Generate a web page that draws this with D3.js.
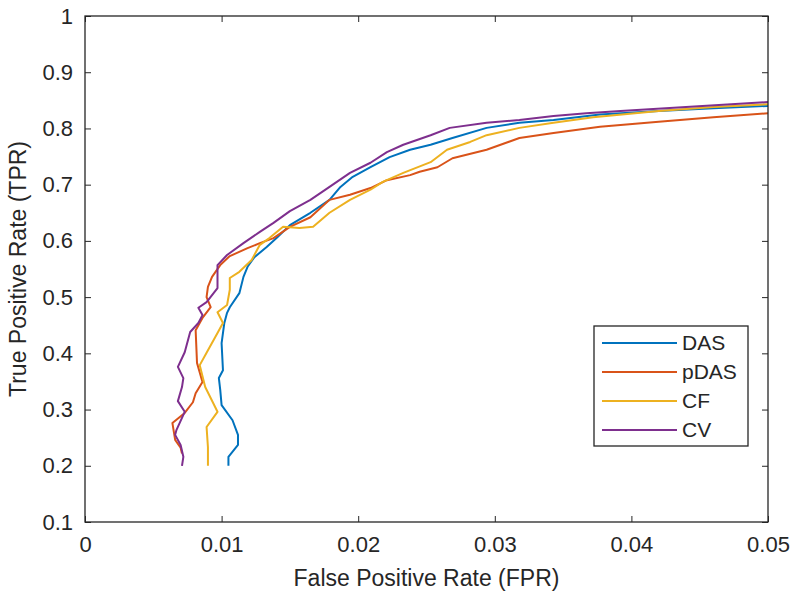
<!DOCTYPE html>
<html><head><meta charset="utf-8">
<script src="https://cdn.jsdelivr.net/npm/d3@7"></script>
<style>body{margin:0;background:#fff}svg{display:block}text{font-family:Arial,"Liberation Sans",sans-serif;fill:#262626}</style>
</head><body><svg id="c" width="800" height="605"></svg>
<script>
const seriesNames = ["DAS","pDAS","CF","CV"];
const seriesColors = ["#0072BD","#D95319","#EDB120","#7E2F8E"];
const xTicks = [0,0.01,0.02,0.03,0.04,0.05];
const yTicks = [0.1,0.2,0.3,0.4,0.5,0.6,0.7,0.8,0.9,1];
const dasFPR = [0.0105,0.0105,0.0112,0.0112,0.0108,0.0100,0.0099,0.0098,0.0101,0.0100,0.0102,0.0104,0.0106,0.0113,0.0116,0.0119,0.0124,0.0133,0.0141,0.0150,0.0165,0.0179,0.0187,0.0196,0.0209,0.0223,0.0238,0.0253,0.0269,0.0294,0.0318,0.0343,0.0377,0.0420,0.0460,0.0500];
const dasTPR = [0.200,0.216,0.237,0.255,0.281,0.308,0.335,0.356,0.370,0.418,0.454,0.472,0.482,0.507,0.536,0.554,0.571,0.589,0.607,0.628,0.650,0.673,0.696,0.714,0.731,0.749,0.762,0.771,0.783,0.801,0.810,0.815,0.825,0.831,0.836,0.840];
const pdasFPR = [0.0071,0.0070,0.0066,0.0064,0.0073,0.0079,0.0081,0.0086,0.0082,0.0081,0.0086,0.0092,0.0089,0.0090,0.0093,0.0099,0.0106,0.0119,0.0128,0.0138,0.0150,0.0165,0.0179,0.0194,0.0209,0.0221,0.0238,0.0245,0.0258,0.0269,0.0294,0.0318,0.0343,0.0377,0.0420,0.0460,0.0500];
const pdasTPR = [0.222,0.232,0.246,0.276,0.294,0.313,0.329,0.349,0.383,0.441,0.463,0.482,0.500,0.518,0.536,0.557,0.573,0.587,0.596,0.605,0.625,0.642,0.673,0.682,0.694,0.708,0.717,0.723,0.731,0.747,0.762,0.783,0.792,0.803,0.812,0.820,0.827];
const cfFPR = [0.0090,0.0090,0.0089,0.0097,0.0088,0.0084,0.0089,0.0097,0.0101,0.0097,0.0104,0.0106,0.0106,0.0113,0.0122,0.0128,0.0135,0.0145,0.0157,0.0167,0.0179,0.0194,0.0209,0.0218,0.0233,0.0253,0.0265,0.0282,0.0294,0.0318,0.0343,0.0372,0.0420,0.0460,0.0500];
const cfTPR = [0.200,0.233,0.269,0.296,0.340,0.379,0.401,0.436,0.454,0.473,0.486,0.513,0.534,0.545,0.566,0.593,0.605,0.625,0.623,0.625,0.650,0.673,0.691,0.705,0.721,0.740,0.762,0.776,0.788,0.801,0.810,0.820,0.831,0.838,0.843];
const cvFPR = [0.0071,0.0072,0.0070,0.0066,0.0067,0.0073,0.0068,0.0071,0.0072,0.0068,0.0073,0.0077,0.0083,0.0086,0.0083,0.0089,0.0097,0.0097,0.0097,0.0104,0.0116,0.0128,0.0138,0.0150,0.0165,0.0179,0.0194,0.0209,0.0221,0.0233,0.0253,0.0267,0.0294,0.0318,0.0343,0.0367,0.0392,0.0440,0.0500];
const cvTPR = [0.200,0.216,0.237,0.255,0.264,0.296,0.315,0.340,0.356,0.376,0.402,0.438,0.454,0.468,0.481,0.491,0.516,0.539,0.557,0.575,0.596,0.616,0.632,0.653,0.673,0.696,0.721,0.739,0.758,0.771,0.788,0.801,0.810,0.815,0.822,0.827,0.831,0.838,0.847];
const xs = [dasFPR,pdasFPR,cfFPR,cvFPR], ys=[dasTPR,pdasTPR,cfTPR,cvTPR];

const svg = d3.select("#c");
const L=85,R=768,T=16,B=522;
const x = d3.scaleLinear().domain([0,0.05]).range([L,R]);
const y = d3.scaleLinear().domain([0.1,1]).range([B,T]);
const tickLen=6;
const ax = svg.append("g");
ax.append("g").attr("transform",`translate(0,${B})`).call(d3.axisBottom(x).tickValues(xTicks).tickFormat(d=>d===0?"0":d3.format("")(+d.toFixed(2))).tickSizeInner(-tickLen).tickSizeOuter(0).tickPadding(14))
  .call(g=>{g.select(".domain").remove();g.selectAll("text").attr("font-size",22).attr("fill","#262626");});
ax.append("g").attr("transform",`translate(0,${T})`).call(d3.axisTop(x).tickValues(xTicks).tickFormat("").tickSizeInner(-tickLen).tickSizeOuter(0))
  .call(g=>g.select(".domain").remove());
ax.append("g").attr("transform",`translate(${L},0)`).call(d3.axisLeft(y).tickValues(yTicks).tickFormat(d=>d3.format("")(+d.toFixed(1))).tickSizeInner(-tickLen).tickSizeOuter(0).tickPadding(12))
  .call(g=>{g.select(".domain").remove();g.selectAll("text").attr("font-size",22).attr("fill","#262626");});
ax.append("g").attr("transform",`translate(${R},0)`).call(d3.axisRight(y).tickValues(yTicks).tickFormat("").tickSizeInner(-tickLen).tickSizeOuter(0))
  .call(g=>g.select(".domain").remove());
ax.selectAll(".tick line").attr("stroke","#262626");

const line = d3.line();
xs.forEach((xa,i)=>{
  const pts = xa.map((v,j)=>[x(v),y(ys[i][j])]);
  svg.append("path").attr("d",line(pts)).attr("fill","none").attr("stroke",seriesColors[i]).attr("stroke-width",2).attr("stroke-linejoin","round");
});
svg.append("rect").attr("x",L).attr("y",T).attr("width",R-L).attr("height",B-T).attr("fill","none").attr("stroke","#262626").attr("stroke-width",1.3);

svg.append("text").attr("x",(L+R)/2).attr("y",586).attr("text-anchor","middle").attr("font-size",23).text("False Positive Rate (FPR)");
svg.append("text").attr("transform",`translate(26,${(T+B)/2}) rotate(-90)`).attr("text-anchor","middle").attr("font-size",23).text("True Positive Rate (TPR)");

const lg = svg.append("g");
lg.append("rect").attr("x",594).attr("y",326).attr("width",154).attr("height",120).attr("fill","#fff").attr("stroke","#262626").attr("stroke-width",1.3);
seriesNames.forEach((n,i)=>{
  const yy=343+i*29;
  lg.append("line").attr("x1",602).attr("x2",677).attr("y1",yy).attr("y2",yy).attr("stroke",seriesColors[i]).attr("stroke-width",2);
  lg.append("text").attr("x",682).attr("y",yy+7).attr("font-size",21).text(n);
});
</script></body></html>
